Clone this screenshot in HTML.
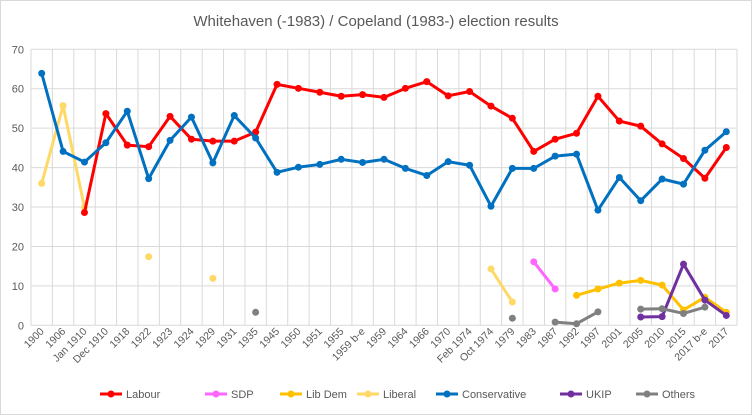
<!DOCTYPE html>
<html><head><meta charset="utf-8"><style>
html,body{margin:0;padding:0;background:#fff;}
svg{display:block;font-family:"Liberation Sans",Arial,sans-serif;}
</style></head><body>
<svg id="c" width="752" height="415" viewBox="0 0 752 415" xmlns="http://www.w3.org/2000/svg">
<rect x="0.5" y="0.5" width="751" height="414" fill="#fff" stroke="#d9d9d9"/>
<text x="376" y="26" text-anchor="middle" font-size="15" fill="#595959">Whitehaven (-1983) / Copeland (1983-) election results</text>
</svg>
<script>
var s=document.getElementById('c'),NS='http://www.w3.org/2000/svg';
function el(t,a,txt){var e=document.createElementNS(NS,t);for(var k in a)e.setAttribute(k,a[k]);if(txt!=null)e.textContent=txt;s.appendChild(e);return e;}
var L=31,R=737,T=49.3,B=325.3,n=33,w=(R-L)/n;
function X(i){return L+w*(i+0.5);} function Y(v){return B-(B-T)*v/70;}
var cats=["1900","1906","Jan 1910","Dec 1910","1918","1922","1923","1924","1929","1931","1935","1945","1950","1951","1955","1959 b-e","1959","1964","1966","1970","Feb 1974","Oct 1974","1979","1983","1987","1992","1997","2001","2005","2010","2015","2017 b-e","2017"];
for(var v=0;v<=70;v+=10){el('line',{x1:L,x2:R,y1:Y(v),y2:Y(v),stroke:'#d9d9d9','stroke-width':1});el('text',{x:24,y:Y(v)+4,'text-anchor':'end','font-size':11,fill:'#595959'},v);}
for(var i=0;i<=n;i++){var x=L+w*i;el('line',{x1:x,x2:x,y1:T,y2:B,stroke:'#d9d9d9','stroke-width':1});}
cats.forEach(function(c,i){var x=X(i)+3,y=332;el('text',{x:x,y:y,'text-anchor':'end','font-size':10.5,fill:'#595959',transform:'rotate(-45 '+x+' '+y+')'},c);});
var N=null;
var series=[
['#ffd966',[36,55.7,29.9,N,N,17.4,N,N,11.9,N,N,N,N,N,N,N,N,N,N,N,N,14.3,5.9]],
['#ff0000',[N,N,28.6,53.7,45.7,45.3,53,47.2,46.7,46.7,49,61.1,60.1,59.1,58.1,58.5,57.8,60.1,61.8,58.2,59.3,55.6,52.5,44.1,47.2,48.7,58.1,51.8,50.5,46,42.3,37.3,45.1]],
['#0070c0',[63.9,44.1,41.4,46.3,54.3,37.2,46.9,52.8,41.2,53.2,47.5,38.8,40.1,40.8,42.1,41.3,42.1,39.8,38,41.5,40.6,30.2,39.8,39.8,42.9,43.4,29.2,37.5,31.6,37.1,35.8,44.4,49.1]],
['#ff66ff',[N,N,N,N,N,N,N,N,N,N,N,N,N,N,N,N,N,N,N,N,N,N,N,16.1,9.2]],
['#ffc000',[N,N,N,N,N,N,N,N,N,N,N,N,N,N,N,N,N,N,N,N,N,N,N,N,N,7.6,9.2,10.7,11.4,10.2,3.9,7.1,3.3]],
['#7030a0',[N,N,N,N,N,N,N,N,N,N,N,N,N,N,N,N,N,N,N,N,N,N,N,N,N,N,N,N,2.1,2.2,15.5,6.4,2.5]],
['#808080',[N,N,N,N,N,N,N,N,N,N,3.3,N,N,N,N,N,N,N,N,N,N,N,1.8,N,0.8,0.4,3.4,N,4.1,4.2,3,4.6]]
];
series.forEach(function(sr){var c=sr[0],d=sr[1],seg=[];
 function flush(){if(seg.length>1)el('polyline',{points:seg.join(' '),fill:'none',stroke:c,'stroke-width':3,'stroke-linejoin':'round'});seg=[];}
 d.forEach(function(v,i){if(v==null){flush();}else seg.push(X(i)+','+Y(v));});flush();
 d.forEach(function(v,i){if(v!=null)el('circle',{cx:X(i),cy:Y(v),r:3.5,fill:c});});
});
var leg=[['Labour','#ff0000',100],['SDP','#ff66ff',205],['Lib Dem','#ffc000',280],['Liberal','#ffd966',357],['Conservative','#0070c0',436],['UKIP','#7030a0',560],['Others','#808080',636]];
leg.forEach(function(l){el('line',{x1:l[2],x2:l[2]+22,y1:394,y2:394,stroke:l[1],'stroke-width':3});el('circle',{cx:l[2]+11,cy:394,r:3.5,fill:l[1]});el('text',{x:l[2]+26,y:398,'font-size':11,fill:'#595959'},l[0]);});
</script>
</body></html>
